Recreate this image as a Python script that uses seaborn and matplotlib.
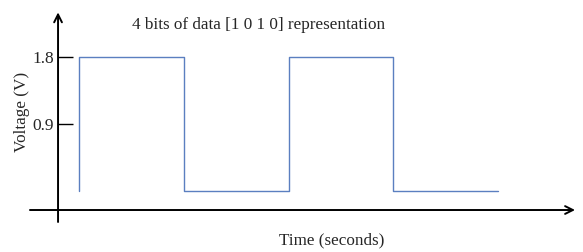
#!/usr/bin/env python3

import pandas as pd
import seaborn as sns
import matplotlib
import matplotlib.pyplot as plt

# signal samples: 4 bits [1 0 1 0], one time unit per bit
time = [0, 0, 1, 2, 3, 4]
voltage = [0, 1.8, 0, 1.8, 0, 0]
ytick_values = [0.9, 1.8]
ytick_labels = ["0.9", "1.8"]


def configure_seaborn():
  sns.set_style("white")
  matplotlib.rcParams['font.family'] = ['Liberation Serif', 'DejaVu Serif']


def plot_signal(df):
  fig = plt.figure(figsize=(5.83, 2.52), dpi=100)
  ax = fig.add_axes([0, 0, 1, 1])

  sns.lineplot(x='time', y='voltage', data=df, ax=ax, sort=False,
               estimator=None, drawstyle='steps-post',
               color='#5b7fc0', linewidth=1.0)

  # map data space onto the picture
  ax.set_xlim(-0.754, 4.811)
  ax.set_ylim(-0.819, 2.566)

  for s in ax.spines.values():
    s.set_visible(False)
  ax.spines['left'].set_position(('data', -0.2))

  ax.set_xticks([])
  ax.set_yticks(ytick_values)
  ax.set_yticklabels(ytick_labels, fontsize=12.5)
  ax.tick_params(axis='y', direction='in', length=10.5, width=1.0,
                 color='black', pad=3.0, left=True)
  ax.set_xlabel("")
  ax.set_ylabel("")

  # hand drawn style axes with arrow heads
  arrow = dict(arrowstyle='->', color='black', lw=1.4,
               shrinkA=0, shrinkB=0, mutation_scale=14)
  ax.annotate("", xy=(4.735, -0.255), xytext=(-0.468, -0.255), arrowprops=arrow)
  ax.annotate("", xy=(-0.2, 2.40), xytext=(-0.2, -0.416), arrowprops=arrow)

  fig.text(0.443, 0.90, "4 bits of data [1 0 1 0] representation",
           ha='center', va='center', fontsize=12.3)
  fig.text(0.569, 0.048, "Time (seconds)", ha='center', va='center', fontsize=12.3)
  fig.text(0.038, 0.555, "Voltage (V)", ha='center', va='center',
           rotation=90, fontsize=12.3)

  fig.savefig("out.png", dpi=100)
  plt.close(fig)


def main():
  configure_seaborn()
  df = pd.DataFrame({'time': time, 'voltage': voltage})
  plot_signal(df)


if __name__ == '__main__':
  main()
